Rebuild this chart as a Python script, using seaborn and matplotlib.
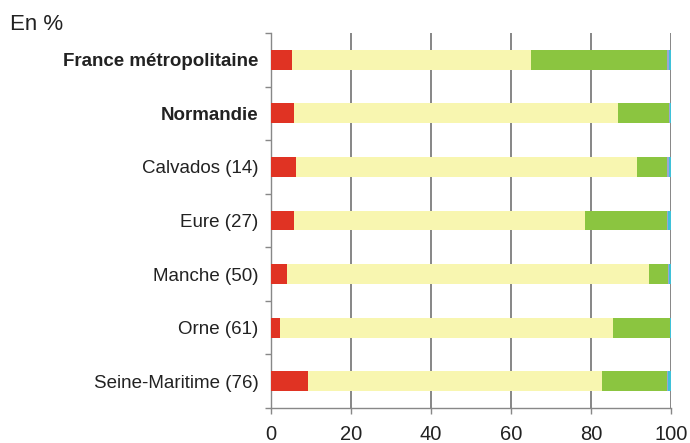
import numpy as np
import pandas as pd
import matplotlib
matplotlib.use('Agg')
import matplotlib.pyplot as plt
import seaborn as sns

sns.set_style('white')
plt.rcParams['font.family'] = ['Liberation Sans', 'DejaVu Sans']

zones = ['France métropolitaine', 'Normandie', 'Calvados (14)', 'Eure (27)',
         'Manche (50)', 'Orne (61)', 'Seine-Maritime (76)']
seg_red = [5.2, 5.75, 6.25, 5.75, 4.0, 2.3, 9.3]
seg_yellow = [59.9, 81.0, 85.35, 72.75, 90.6, 83.3, 73.4]
seg_green = [34.0, 12.8, 7.5, 20.6, 4.65, 14.1, 16.4]
seg_purple = [0.4, 0.1, 0.4, 0.2, 0.35, 0.1, 0.2]
seg_cyan = [0.5, 0.35, 0.5, 0.7, 0.4, 0.2, 0.7]

segments = [seg_red, seg_yellow, seg_green, seg_purple, seg_cyan]
colors = ['#e03323', '#f8f6b0', '#8bc540', '#9aa6d6', '#3fc1d9']

df = pd.DataFrame({'zone': zones})
cum = np.zeros(len(zones))
for i, s in enumerate(segments):
    cum = cum + np.array(s)
    df['c%d' % i] = cum

fig = plt.figure(figsize=(6.9, 4.43), dpi=100)
ax = fig.add_axes([271/690, 35/443, 400/690, 375/443])

# stacked bars: draw the cumulative totals from the widest down
for i in range(len(segments) - 1, -1, -1):
    sns.barplot(data=df, x='c%d' % i, y='zone', orient='h', color=colors[i],
                saturation=1, width=0.37, linewidth=0, ax=ax, zorder=3)

ax.set_xlim(0, 100)
ax.set_ylim(6.5, -0.5)
ax.set_xticks([0, 20, 40, 60, 80, 100])
ax.set_xlabel('')
ax.set_ylabel('')
ax.xaxis.grid(True, color='#666666', linewidth=1.1, zorder=0)
ax.set_axisbelow(True)

for side in ['top', 'right']:
    ax.spines[side].set_visible(False)
for side in ['left', 'bottom']:
    ax.spines[side].set_color('#888888')
    ax.spines[side].set_linewidth(1.0)

ax.set_yticks(np.arange(-0.5, 7, 1), minor=True)
ax.tick_params(axis='y', which='major', length=0, pad=9, labelsize=13.5, labelcolor='#222222')
ax.tick_params(axis='y', which='minor', length=4.5, width=1, color='#888888', direction='out', left=True)
ax.tick_params(axis='x', which='major', length=4.5, width=1, color='#888888', direction='out',
               bottom=True, pad=8, labelsize=14.5, labelcolor='#222222')

for lbl in ax.get_yticklabels()[:2]:
    lbl.set_fontweight('bold')

fig.text(10/690, 1 - 29.5/443, 'En %', fontsize=16, color='#222222', va='baseline', ha='left')

fig.savefig('out.png', dpi=100)
